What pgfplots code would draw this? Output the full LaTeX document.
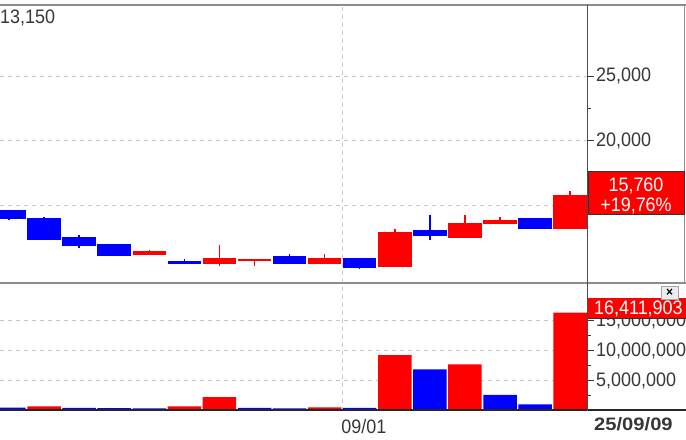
\documentclass[border=0pt]{standalone}
\usepackage{pgfplots}
\pgfplotsset{compat=1.18}
\usepackage{pgfplotstable}
\usepackage{fontspec}
\setmainfont{Liberation Sans}[FakeStretch=0.92]
\newfontfamily\datefont{Liberation Sans}[FakeStretch=1.12]
\definecolor{upred}{RGB}{255,0,0}
\definecolor{dnblue}{RGB}{0,0,255}
\definecolor{gridgray}{RGB}{200,200,200}
\definecolor{framegray}{RGB}{140,140,140}
\definecolor{txtgray}{RGB}{55,55,55}
\newcommand\cf{\fontsize{19.5bp}{22bp}\selectfont}

% k open high low close
\pgfplotstableread{
k open high low close
0 14610 14610 13840 13970
1 13920 14070 12340 12340
2 12470 12680 11720 11850
3 11920 11920 11100 11100
5 10640 10840 10480 10480
8 11020 11200 10480 10480
10 10820 10820 10040 10170
12 13010 14280 12340 12600
15 13940 13940 13160 13160
}\downtable
\pgfplotstableread{
k open high low close
4 11130 11570 11130 11380
6 10480 11900 10330 10840
7 10660 10870 10330 10780
9 10480 11200 10480 10840
11 10220 13190 10220 12850
13 12500 14280 12500 13580
14 13530 14090 13530 13780
16 13160 16110 13160 15760
}\uptable
\pgfplotstableread{
k vol
1 750000
5 750000
6 2300000
9 600000
11 9330000
13 7780000
16 16411903
}\volup
\pgfplotstableread{
k vol
0 550000
2 500000
3 480000
4 450000
7 500000
8 450000
10 500000
12 6950000
14 2670000
15 1100000
}\voldown

\begin{document}
\begin{tikzpicture}
\pgfplotsset{
  chartaxis/.style={
    anchor=south west, width=587bp, scale only axis,
    xmin=-0.2566, xmax=16.48,
    axis line style={draw=none},
    xtick={9.5}, major x tick style={draw=none},
    ytick pos=right, tick align=outside,
    major tick length=7bp, minor tick length=4bp,
    ytick style={draw=txtgray, line width=1bp},
    xmajorgrids, ymajorgrids,
    major grid style={gridgray, line width=1bp, dash pattern=on 4bp off 4bp},
    yticklabel style={font=\cf, text=txtgray, anchor=west, inner sep=0pt, xshift=2bp},
    xticklabel style={font=\cf, text=txtgray, anchor=north west, inner sep=0pt, xshift=-1bp, yshift=-1bp},
    scaled y ticks=false,
  },
  wick/.style={draw=none, mark=none, error bars/.cd, y dir=plus, y explicit,
    error mark=none, error bar style={draw=#1, line width=1.5bp, solid}},
  body/.style={draw=none, mark=none, error bars/.cd, y dir=plus, y explicit,
    error mark=none, error bar style={draw=#1, line width=33.5bp, line cap=butt, solid}},
}
% ---- price panel ----
\begin{axis}[chartaxis, at={(0bp,157bp)}, height=278bp,
  ymin=8978, ymax=30523,
  ytick={15000,20000,25000}, yticklabels={{},{20,000},{25,000}},
  minor ytick={22500}, xticklabels={}]
  \addplot[wick=dnblue]
    table[x=k, y=low, y error plus expr=\thisrow{high}-\thisrow{low}] {\downtable};
  \addplot[wick=upred]
    table[x=k, y=low, y error plus expr=\thisrow{high}-\thisrow{low}] {\uptable};
  \addplot[body=dnblue]
    table[x=k, y=close, y error plus expr=\thisrow{open}-\thisrow{close}+60] {\downtable};
  \addplot[body=upred]
    table[x=k, y=open, y error plus expr=\thisrow{close}-\thisrow{open}+60] {\uptable};
\end{axis}
% ---- volume panel ----
\begin{axis}[chartaxis, at={(0bp,29bp)}, height=128bp,
  ymin=0, ymax=21330000,
  ytick={5000000,10000000,15000000},
  yticklabels={{5,000,000},{10,000,000},{15,000,000}},
  minor ytick={2500000,7500000,12500000},
  xticklabels={09/01}]
  \addplot[ybar, bar width=33.5bp, bar shift=0pt, fill=upred, draw=none]
    table[x=k, y=vol] {\volup};
  \addplot[ybar, bar width=33.5bp, bar shift=0pt, fill=dnblue, draw=none]
    table[x=k, y=vol] {\voldown};
\end{axis}
% ---- frame ----
\draw[framegray, line width=2bp] (0bp,435bp) -- (686bp,435bp);
\draw[framegray, line width=2bp] (0bp,157bp) -- (686bp,157bp);
\draw[black!85, line width=2.5bp] (0bp,30bp) -- (686bp,30bp);
\draw[black!70, line width=1.5bp] (587.5bp,435bp) -- (587.5bp,29bp);
\draw[framegray, line width=1.5bp] (684.5bp,435bp) -- (684.5bp,157bp);
% ---- labels ----
\node[anchor=west, inner sep=0pt, text=txtgray, font=\cf] at (0bp,422.5bp) {13,150};
\node[anchor=base west, inner sep=0pt, text=txtgray, font={\datefont\fontsize{18bp}{20bp}\selectfont\bfseries}] at (594bp,10bp) {25/09/09};
% price box
\draw[fill=upred, draw=black!80, line width=1bp] (588bp,268bp) rectangle (684bp,225bp);
\node[text=white, font=\cf, inner sep=0pt] at (636bp,254bp) {15,760};
\node[text=white, font=\cf, inner sep=0pt] at (636bp,234bp) {+19,76\%};
% volume box
\fill[upred] (588bp,142bp) rectangle (686bp,121bp);
\draw[black!80, line width=1bp] (588bp,121bp) -- (686bp,121bp);
\node[anchor=west, text=white, font=\cf, inner sep=0pt] at (594bp,131.5bp) {16,411,903};
% close button
\draw[fill=gray!15, draw=gray!70, line width=0.8bp] (661bp,154bp) rectangle (678bp,141bp);
\node[font=\fontsize{13bp}{14bp}\selectfont\bfseries, inner sep=0pt] at (669.5bp,147.5bp) {×};
\pgfresetboundingbox
\path[use as bounding box] (0bp,0bp) rectangle (686bp,440bp);
\end{tikzpicture}
\end{document}
